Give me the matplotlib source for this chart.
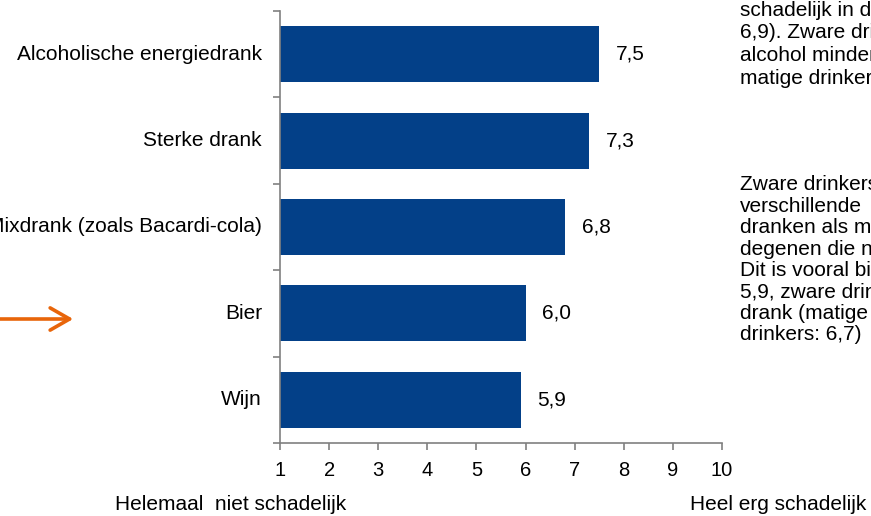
from matplotlib import pyplot as plt
from matplotlib.patches import FancyArrowPatch

# data...
categories = ['Alcoholische energiedrank', 'Sterke drank', 'Mixdrank (zoals Bacardi-cola)', 'Bier', 'Wijn']
scores = [7.5, 7.3, 6.8, 6.0, 5.9]
score_labels = ['7,5', '7,3', '6,8', '6,0', '5,9']
x_ticks = list(range(1, 11))

para_1 = ['schadelijk in de', '6,9). Zware dri', 'alcohol minder', 'matige drinkers']
para_2 = ['Zware drinkers', 'verschillende', 'dranken als ma', 'degenen die ni',
          'Dit is vooral bi', '5,9, zware drin', 'drank (matige', 'drinkers: 6,7)']

BLUE = '#034088'
ORANGE = '#E8650A'
GREY = '#808080'

plt.rcParams['font.family'] = ['Liberation Sans', 'DejaVu Sans']
plt.rcParams['font.size'] = 15

# --------------------------------------------------------------------------------------------------------------------

fig = plt.figure(figsize=(8.71, 5.16), dpi=100)
ax = fig.add_axes([280 / 871, 1 - 443 / 516, 442 / 871, 432 / 516])

pos = list(range(len(categories)))
ax.barh(pos, [s - 1 for s in scores], left=1, height=0.65, color=BLUE)

ax.set_xlim(1, 10)
ax.set_ylim(len(categories) - 0.5, -0.5)

ax.set_xticks(x_ticks)
ax.set_yticks([p - 0.5 for p in pos] + [len(categories) - 0.5])
ax.set_yticklabels([])

for side in ('top', 'right'):
    ax.spines[side].set_visible(False)

for side in ('left', 'bottom'):
    ax.spines[side].set_color(GREY)
    ax.spines[side].set_linewidth(1.2)

ax.tick_params(axis='both', colors=GREY, length=5, width=1.2, labelcolor='black', labelsize=14.5)
ax.tick_params(axis='x', pad=8)

# category labels...
for p, name in zip(pos, categories):
    ax.annotate(name, xy=(0, p), xycoords=('axes fraction', 'data'), xytext=(-13, 0),
                textcoords='offset points', ha='right', va='center')

# value labels...
for p, s, lab in zip(pos, scores, score_labels):
    ax.annotate(lab, xy=(s, p), xytext=(12, 0), textcoords='offset points', ha='left', va='center')

# scale ends...
fig.text(115 / 871, 1 - 505 / 516, 'Helemaal  niet schadelijk', ha='left', va='center')
fig.text(690 / 871, 1 - 505 / 516, 'Heel erg schadelijk', ha='left', va='center')

# side text...
for i, line in enumerate(para_1):
    fig.text(740 / 871, 1 - (10 + i * 22.8) / 516, line, ha='left', va='center')

for i, line in enumerate(para_2):
    fig.text(740 / 871, 1 - (185 + i * 21.4) / 516, line, ha='left', va='center')

# arrow...
fig.patches.append(FancyArrowPatch(
    (-5 / 871, 1 - 319 / 516), (76 / 871, 1 - 319 / 516), transform=fig.transFigure,
    arrowstyle='->,head_length=14,head_width=8', color=ORANGE, linewidth=2.6, mutation_scale=1))

fig.savefig('out.png', dpi=100)
